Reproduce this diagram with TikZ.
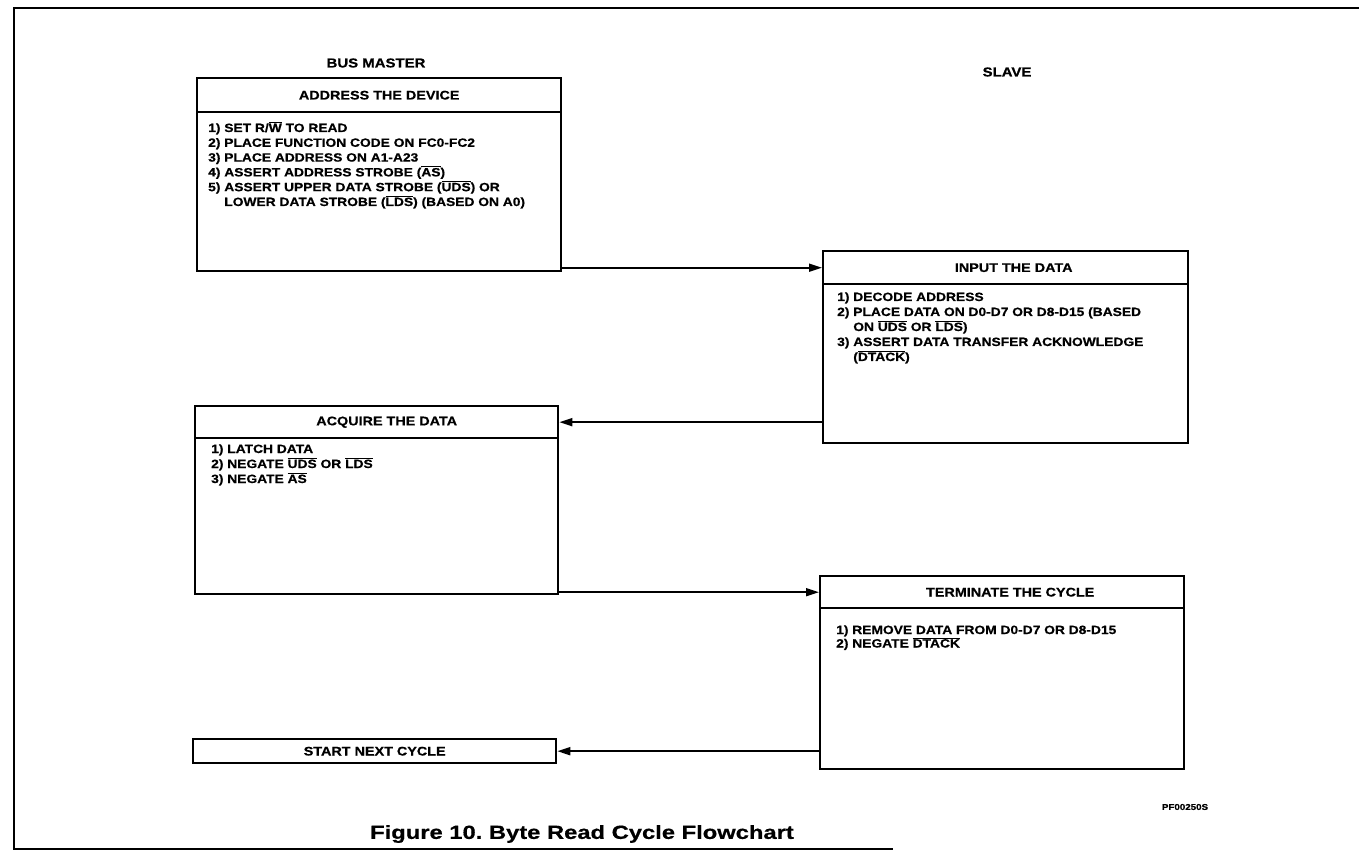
\documentclass[tikz,border=0pt]{standalone}
\usepackage{fontspec}
\setmainfont{Liberation Sans}
\newfontfamily\wide{Liberation Sans}[FakeStretch=1.15,FakeBold=0.6]
\newfontfamily\wider{Liberation Sans}[FakeStretch=1.25,FakeBold=0.6]
\usetikzlibrary{arrows.meta,calc}
\newcommand\ovl[1]{$\overline{\mbox{#1}}$}
\newcommand\lst[2]{\vtop{\baselineskip=#1\lineskiplimit=-20pt\lineskip=0pt #2}}
\newcommand\li[1]{\hbox{#1}}
\newcommand\ind{\phantom{5) }}
\tikzset{
  box/.style={draw, line width=2.4pt, inner sep=0pt, anchor=north west},
  head/.style={box, font=\wide\fontsize{12.5}{14}\bfseries\selectfont},
  list/.style={inner sep=0pt, anchor=base west, font=\wide\fontsize{12}{14}\bfseries\selectfont},
  lbl/.style={inner sep=0pt, font=\wide\fontsize{13}{15}\bfseries\selectfont},
  arr/.style={line width=1.8pt, -{Triangle[length=13pt,width=8pt]}},
  frame/.style={line width=2pt}
}
\begin{document}
\begin{tikzpicture}[x=1pt,y=-1pt]
\useasboundingbox (0,0) rectangle (1359,858);
% frame
\coordinate (ftr) at (1359,8);
\coordinate (ftl) at (14,8);
\coordinate (fbl) at (14,849);
\coordinate (fbr) at (893,849);
\draw[frame] (ftr) -- (ftl) -- (fbl) -- (fbr);
% column labels
\node[lbl] (bm) at (376,63) {BUS MASTER};
\node[lbl] (sl) at (1007,72) {SLAVE};
% box 1
\node[box, minimum width=364pt, minimum height=193pt] (b1) at (196,77) {};
\node[head, minimum width=364pt, minimum height=34pt] (h1) at (196,77) {ADDRESS THE DEVICE};
\node[list] (t1) at (208,132) {\lst{14.8pt}{%
  \li{1) SET R/\ovl{W} TO READ}
  \li{2) PLACE FUNCTION CODE ON FC0-FC2}
  \li{3) PLACE ADDRESS ON A1-A23}
  \li{4) ASSERT ADDRESS STROBE (\ovl{AS})}
  \li{5) ASSERT UPPER DATA STROBE (\ovl{UDS}) OR}
  \li{\ind LOWER DATA STROBE (\ovl{LDS}) (BASED ON A0)}}};
% box 2
\node[box, minimum width=365pt, minimum height=192pt] (b2) at (822,250) {};
\node[head, minimum width=365pt, minimum height=33pt] (h2) at (822,250) {\hspace*{16pt}INPUT THE DATA};
\node[list] (t2) at (837,301) {\lst{15pt}{%
  \li{1) DECODE ADDRESS}
  \li{2) PLACE DATA ON D0-D7 OR D8-D15 (BASED}
  \li{\ind ON \ovl{UDS} OR \ovl{LDS})}
  \li{3) ASSERT DATA TRANSFER ACKNOWLEDGE}
  \li{\ind(\ovl{DTACK})}}};
% box 3
\node[box, minimum width=363pt, minimum height=188pt] (b3) at (194,405) {};
\node[head, minimum width=363pt, minimum height=32pt] (h3) at (194,405) {\hspace*{20pt}ACQUIRE THE DATA};
\node[list] (t3) at (211,453) {\lst{15pt}{%
  \li{1) LATCH DATA}
  \li{2) NEGATE \ovl{UDS} OR \ovl{LDS}}
  \li{3) NEGATE \ovl{AS}}}};
% box 4
\node[box, minimum width=364pt, minimum height=193pt] (b4) at (819,575) {};
\node[head, minimum width=364pt, minimum height=32pt] (h4) at (819,575) {\hspace*{16pt}TERMINATE THE CYCLE};
\node[list] (t4) at (836,634) {\lst{13.5pt}{%
  \li{1) REMOVE DATA FROM D0-D7 OR D8-D15}
  \li{2) NEGATE \ovl{DTACK}}}};
% box 5
\node[head, minimum width=363pt, minimum height=24pt] (b5) at (192,738) {START NEXT CYCLE};
% arrows
\draw[arr] (b1.east |- h2.west) -- (h2.west);
\draw[arr] (b2.west |- h3.east) -- (h3.east);
\draw[arr] (b3.east |- h4.west) -- (h4.west);
\draw[arr] (b4.west |- b5.east) -- (b5.east);
% captions
\node[inner sep=0pt, font=\wide\fontsize{8.5}{10}\bfseries\selectfont] (pf) at (1185,807) {PF00250S};
\node[inner sep=0pt, font=\wider\fontsize{19}{22}\bfseries\selectfont] (cap) at (582,834) {Figure 10.\ Byte Read Cycle Flowchart};
\end{tikzpicture}
\end{document}
